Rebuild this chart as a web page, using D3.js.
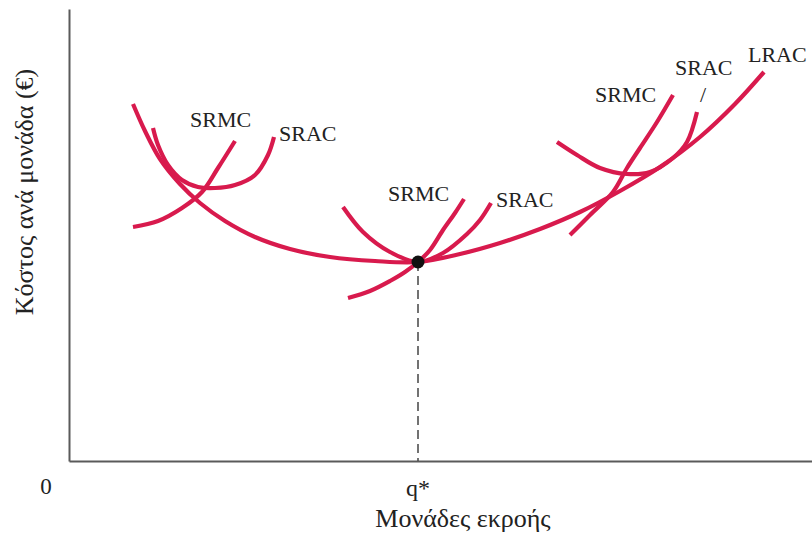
<!DOCTYPE html>
<html><head><meta charset="utf-8">
<script src="https://cdn.jsdelivr.net/npm/d3@7"></script>
<style>body{margin:0;background:#fff}svg{display:block}text{font-family:"Liberation Serif","Times New Roman",serif;fill:#222}</style>
</head><body>
<script>
// Output (x) and cost per unit (y), arbitrary units
const lrac  = [[6.4,35.7],[7.6,33.0],[9.1,30.2],[11.1,27.7],[13.1,25.8],[15.6,24.0],[18.6,22.4],[22.1,21.2],[26.1,20.4],[30.6,20.0],[34.9,19.9],[39.1,20.7],[43.1,21.8],[47.1,23.2],[51.1,24.9],[55.1,27.0],[59.1,29.4],[63.1,32.4],[66.6,35.7],[69.5,38.9]];
const srac1 = [[8.4,33.3],[8.9,31.6],[9.9,29.6],[11.3,28.1],[12.9,27.4],[14.6,27.3],[16.6,27.6],[18.6,28.6],[19.9,30.6],[20.5,32.4]];
const srmc1 = [[6.4,23.4],[8.9,24.0],[11.3,25.3],[13.3,26.9],[14.9,29.3],[16.6,32.0]];
const srac2 = [[27.4,25.4],[29.4,22.9],[32.1,20.9],[34.9,19.9],[37.4,20.8],[39.8,22.7],[41.1,24.1],[42.2,25.8]];
const srmc2 = [[27.9,16.3],[30.1,17.0],[32.1,18.0],[33.6,18.9],[34.9,19.9],[36.1,21.1],[37.4,23.1],[38.6,24.8],[39.5,26.2]];
const srac3 = [[48.8,31.9],[50.8,30.6],[53.1,29.3],[55.8,28.7],[58.1,28.9],[60.4,30.3],[61.8,31.9],[62.8,34.9]];
const srmc3 = [[50.1,22.6],[52.1,24.6],[54.4,26.9],[55.8,29.3],[57.1,31.3],[58.8,33.9],[60.4,36.6]];
const qStar = [34.9, 19.9];
const xTickLabels = ["0", "q*"];
const labels = ["SRMC","SRAC","SRMC","SRAC","SRMC","SRAC","/","LRAC"];
const xTitle = "Μονάδες εκροής";
const yTitle = "Κόστος ανά μονάδα (€)";

const W = 812, H = 540;
const svg = d3.select("body").append("svg").attr("width", W).attr("height", H);
const x = d3.scaleLinear().domain([0, 74.3]).range([69, 812]);
const y = d3.scaleLinear().domain([0, 45.2]).range([461, 9]);

const axisColor = "#5a5a5a";
svg.append("g").attr("transform", `translate(0,${y(0)})`)
  .call(d3.axisBottom(x).tickValues([]).tickSizeOuter(0))
  .call(g => g.select(".domain").attr("stroke", axisColor).attr("stroke-width", 2));
svg.append("g").attr("transform", `translate(${x(0)},0)`)
  .call(d3.axisLeft(y).tickValues([]).tickSizeOuter(0))
  .call(g => g.select(".domain").attr("stroke", axisColor).attr("stroke-width", 2));

// dashed guide at q*
svg.append("line")
  .attr("x1", x(qStar[0])).attr("x2", x(qStar[0]))
  .attr("y1", y(qStar[1])).attr("y2", y(0))
  .attr("stroke", "#444").attr("stroke-width", 1.5).attr("stroke-dasharray", "9,5");

const line = d3.line().x(d => x(d[0])).y(d => y(d[1])).curve(d3.curveCatmullRom.alpha(0.5));
const red = "#d81a4d";
[lrac, srac1, srmc1, srac2, srmc2, srac3, srmc3].forEach(c => {
  svg.append("path").attr("d", line(c)).attr("fill", "none")
    .attr("stroke", red).attr("stroke-width", 4.2);
});

svg.append("circle").attr("cx", x(qStar[0])).attr("cy", y(qStar[1])).attr("r", 6.5).attr("fill", "#111");

// curve labels
const labPos = [[190,127],[279,141],[388,201],[496,207],[595,102],[675,75],[700,102],[748,62]];
labels.forEach((t, i) => {
  svg.append("text").attr("x", labPos[i][0]).attr("y", labPos[i][1])
    .attr("font-size", 22).text(t);
});

// tick labels
svg.append("text").attr("x", 46).attr("y", 494).attr("text-anchor", "middle").attr("font-size", 23).text(xTickLabels[0]);
svg.append("text").attr("x", x(qStar[0])).attr("y", 496).attr("text-anchor", "middle").attr("font-size", 24).text(xTickLabels[1]);

// axis titles
svg.append("text").attr("x", 463).attr("y", 527).attr("text-anchor", "middle").attr("font-size", 26).text(xTitle);
svg.append("text").attr("transform", "translate(33,192) rotate(-90)").attr("text-anchor", "middle").attr("font-size", 26).text(yTitle);
</script>
</body></html>
